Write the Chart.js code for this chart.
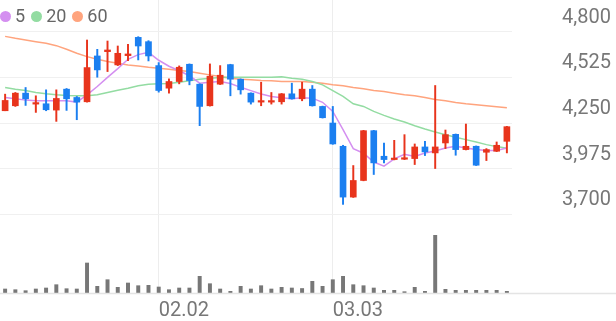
<!DOCTYPE html>
<html><head><meta charset="utf-8">
<script src="https://cdn.jsdelivr.net/npm/chart.js@4/dist/chart.umd.min.js"></script>
<style>
html,body{margin:0;padding:0;background:#fff;}
#wrap{position:relative;width:616px;height:321px;overflow:hidden;}
#legend{position:absolute;left:0;top:6px;display:flex;align-items:center;font-family:Roboto,sans-serif;font-size:18px;color:#666;line-height:20px;}
#legend .dot{display:inline-block;width:11px;height:11px;border-radius:50%;margin-right:4px;}
#legend .item{display:flex;align-items:center;margin-right:6px;}
</style></head><body>
<div id="wrap"><canvas id="c" width="616" height="321"></canvas><div id="legend"></div></div>
<script>
const dates = ["01.12","01.13","01.14","01.15","01.16","01.19","01.20","01.21","01.22","01.23","01.26","01.27","01.28","01.29","01.30",
"02.02","02.03","02.04","02.05","02.06","02.09","02.10","02.11","02.12","02.13","02.19","02.20","02.23","02.24","02.25","02.26","02.27",
"03.03","03.04","03.05","03.06","03.09","03.10","03.11","03.12","03.13","03.16","03.17","03.18","03.19","03.20","03.23","03.24","03.25","03.26"];
const openP = [4324,4354,4430,4364,4366,4328,4454,4404,4378,4654,4680,4600,4656,4766,4740,4596,4460,4500,4604,4484,4354,4484,4602,4514,4430,4376,4376,4378,4426,4396,4454,4350,4250,4110,3804,3904,4204,4050,4030,4032,4036,4106,4070,4130,4182,4090,4110,4074,4080,4140];
const highP = [4424,4434,4464,4414,4450,4450,4458,4410,4750,4694,4744,4714,4724,4770,4746,4614,4516,4594,4606,4486,4606,4596,4604,4516,4432,4496,4434,4428,4490,4496,4476,4352,4350,4116,3994,4206,4206,4130,4146,4180,4124,4140,4476,4208,4184,4244,4112,4096,4136,4230];
const lowP = [4324,4350,4356,4314,4324,4260,4326,4270,4376,4526,4560,4596,4626,4630,4624,4436,4430,4486,4480,4234,4352,4482,4414,4424,4364,4354,4364,4364,4394,4384,4352,4280,4122,3760,3802,3902,3940,4010,4028,4030,4000,4054,3976,4096,4056,4088,3994,4024,4078,4070];
const closeP = [4386,4430,4396,4372,4330,4398,4396,4376,4584,4570,4690,4670,4666,4714,4654,4446,4500,4586,4506,4350,4532,4538,4514,4450,4376,4384,4384,4426,4396,4454,4354,4282,4124,3804,3904,4204,4010,4030,4038,4040,4106,4076,4106,4180,4090,4110,3996,4090,4116,4228];
const volume = [40000,33000,23000,40000,50000,83000,43000,40000,300000,67000,133000,57000,100000,73000,77000,60000,33000,50000,50000,167000,93000,40000,17000,67000,40000,73000,40000,57000,50000,45000,117000,67000,133000,167000,83000,73000,50000,27000,27000,13000,57000,17000,577000,37000,27000,27000,27000,27000,27000,17000];
const ma5 = [4404,4396,4388,4384,4384,4384,4384,4376,4420,4470,4525,4578,4634,4662,4676,4628,4592,4565,4535,4490,4495,4500,4488,4465,4445,4425,4410,4402,4396,4402,4400,4375,4320,4210,4096,4068,4015,3990,4034,4062,4048,4070,4082,4100,4110,4100,4090,4084,4084,4100];
const ma20 = [4464,4454,4446,4434,4426,4420,4416,4414,4414,4420,4434,4448,4460,4474,4484,4486,4488,4496,4504,4514,4520,4524,4526,4526,4526,4526,4526,4528,4520,4514,4500,4480,4445,4410,4366,4350,4320,4296,4274,4256,4234,4214,4196,4180,4164,4150,4136,4120,4108,4098];
const ma60 = [4772,4760,4750,4740,4730,4716,4694,4670,4650,4634,4620,4610,4600,4594,4586,4580,4574,4566,4560,4550,4540,4530,4520,4514,4510,4506,4504,4500,4500,4500,4496,4490,4480,4474,4464,4456,4446,4440,4430,4420,4414,4404,4392,4384,4374,4366,4360,4354,4348,4342];
const priceTicks = [3700,3975,4250,4525,4800];
const maNames = ["5","20","60"];

const UP = '#e8341c', DOWN = '#1b7ff0';
const maColors = ['#d48ff0','#93dca2','#ffa47e'];
const candleColors = closeP.map((c,i)=> c >= openP[i] ? UP : DOWN);
const monthStart = new Set();
dates.forEach((d,i)=>{ if(i>0 && d.slice(0,2)!==dates[i-1].slice(0,2)) monthStart.add(i); });
const fmt = v => String(v).replace(/\B(?=(\d{3})+(?!\d))/g, ',');

const lg = document.getElementById('legend');
maNames.forEach((n,k)=>{
  const it = document.createElement('span'); it.className='item';
  const d = document.createElement('span'); d.className='dot'; d.style.background = maColors[k];
  const t = document.createElement('span'); t.textContent = n;
  it.appendChild(d); it.appendChild(t); lg.appendChild(it);
});

const baseline = {
  id:'baseline',
  afterDraw(chart){
    const c = chart.ctx, y = chart.chartArea.bottom + 0.5;
    c.save(); c.strokeStyle = '#e4e4e4'; c.lineWidth = 1.5;
    c.beginPath(); c.moveTo(0,y); c.lineTo(chart.width,y); c.stroke(); c.restore();
  }
};
const noPad = s => { s.paddingTop = 0; s.paddingBottom = 0; s.paddingLeft = 0; s.paddingRight = 0; };

new Chart(document.getElementById('c'), {
  type:'bar',
  data:{
    labels: dates,
    datasets:[
      {type:'line', label:maNames[0], data:ma5, borderColor:maColors[0], borderWidth:1.5, pointRadius:0, tension:0, yAxisID:'y', order:5},
      {type:'line', label:maNames[1], data:ma20, borderColor:maColors[1], borderWidth:1.5, pointRadius:0, tension:0, yAxisID:'y', order:5},
      {type:'line', label:maNames[2], data:ma60, borderColor:maColors[2], borderWidth:1.5, pointRadius:0, tension:0, yAxisID:'y', order:5},
      {label:'wick', data: lowP.map((l,i)=>[l, highP[i]]), backgroundColor:candleColors, barThickness:1.3, grouped:false, yAxisID:'y', order:2},
      {label:'body', data: openP.map((o,i)=>[o, closeP[i]]), backgroundColor:candleColors, barThickness:6, minBarLength:1.5, grouped:false, yAxisID:'y', order:1},
      {label:'vol', data: volume, backgroundColor:'#777777', barThickness:3.3, grouped:false, yAxisID:'v', order:1}
    ]
  },
  options:{
    responsive:false, animation:false, devicePixelRatio:1,
    layout:{padding:0},
    plugins:{legend:{display:false}, tooltip:{enabled:false}},
    scales:{
      x:{
        offset:true,
        grid:{offset:false, drawTicks:false, lineWidth:1, color: ctx => monthStart.has(ctx.index) ? '#ededed' : 'rgba(0,0,0,0)'},
        border:{display:false},
        ticks:{autoSkip:false, maxRotation:0, minRotation:0, align:'start', padding:6, color:'#777', font:{family:'Roboto', size:20},
          callback:(v,i)=> monthStart.has(i) ? dates[i] : ''},
        afterFit: s => { s.height = 28; noPad(s); }
      },
      y:{
        position:'right', stack:'main', stackWeight:220, min:3666, max:4991,
        afterBuildTicks: s => { s.ticks = priceTicks.map(v=>({value:v})); },
        grid:{color:'#f0f0f0', drawTicks:false, tickLength:0},
        border:{display:false},
        ticks:{autoSkip:false, padding:50, labelOffset:-14, color:'#777', font:{family:'Roboto', size:20}, callback: v => fmt(v)},
        afterFit: s => { s.width = 104; noPad(s); }
      },
      v:{
        position:'right', stack:'main', stackWeight:73, min:0, max:730000,
        grid:{display:false, drawTicks:false}, border:{display:false},
        ticks:{display:false},
        afterFit: s => { s.width = 104; noPad(s); }
      }
    }
  },
  plugins:[baseline]
});
</script>
</body></html>
